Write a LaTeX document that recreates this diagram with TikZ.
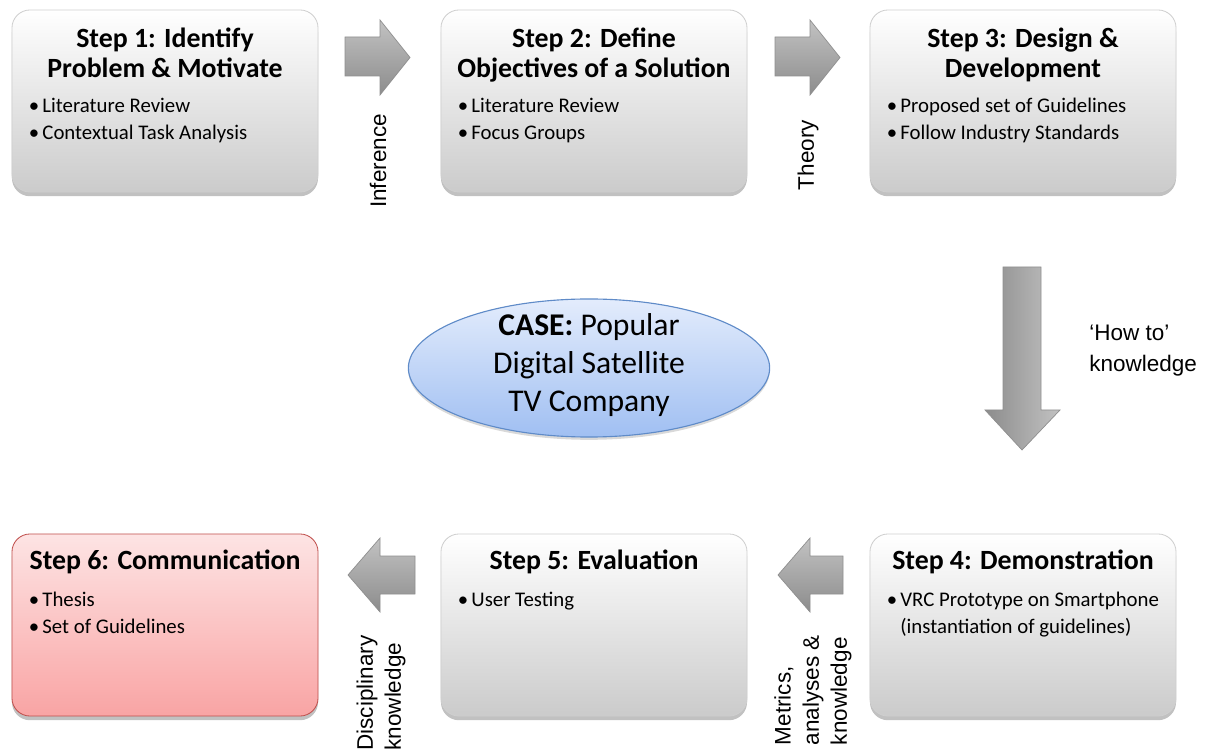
\documentclass[tikz,border=0pt]{standalone}
\usepackage{fontspec}
\setmainfont{Carlito}
\newfontfamily\labelfont{Liberation Sans}
\usetikzlibrary{shapes.geometric,shadows,calc}

\definecolor{boxtop}{HTML}{FFFFFF}
\definecolor{boxbot}{HTML}{CBCBCB}
\definecolor{boxline}{HTML}{CFCFCF}
\definecolor{redtop}{HTML}{FDE4E4}
\definecolor{redbot}{HTML}{F9A4A4}
\definecolor{redline}{HTML}{C0504D}
\definecolor{elltop}{HTML}{E3ECFC}
\definecolor{ellbot}{HTML}{A0BFF2}
\definecolor{ellline}{HTML}{5F8BC8}
\definecolor{arrowtop}{HTML}{C2C2C2}
\definecolor{arrowbot}{HTML}{8C8C8C}
\definecolor{arrowline}{HTML}{8F8F8F}

% bullet with a narrow gap before the item text
\newcommand{\itm}{\textbullet\hspace{2.3pt}}

\begin{document}
\begin{tikzpicture}[x=0.025cm,y=-0.025cm,
  stepbox/.style={draw=boxline, line width=0.6pt, rounded corners=0.45cm,
    minimum width=7.65cm, minimum height=4.55cm, inner sep=0pt,
    top color=boxtop, bottom color=boxbot,
    drop shadow={shadow xshift=0pt, shadow yshift=-3pt, opacity=0.35, fill=black!70}},
  redbox/.style={stepbox, draw=redline, top color=redtop, bottom color=redbot},
  titletext/.style={font=\bfseries\fontsize{19.8}{21.3}\selectfont, align=center, inner sep=0pt},
  bullettext/.style={font=\fontsize{14.8}{19.2}\selectfont, align=left, inner sep=0pt},
  casetext/.style={font=\fontsize{22.5}{27}\selectfont, align=center, inner sep=0pt},
  arrowlabel/.style={font=\labelfont\fontsize{16}{20}\selectfont, align=left, inner sep=0pt},
  blockarrow/.style={draw=arrowline, line width=0.5pt, top color=arrowtop, bottom color=arrowbot, line join=miter},
  blockarrowv/.style={draw=arrowline, line width=0.5pt, left color=arrowbot, right color=arrowtop, line join=miter},
  casebubble/.style={ellipse, draw=ellline, line width=0.8pt, minimum width=9.03cm, minimum height=3.45cm,
    inner sep=0pt, top color=elltop, bottom color=ellbot,
    drop shadow={shadow xshift=0pt, shadow yshift=-2pt, opacity=0.25, fill=black!60}}
]
\useasboundingbox (0,0) rectangle (1206,754);

% the six steps
\node[stepbox] (s1) at (165,101) {};
\node[stepbox] (s2) at (594,101) {};
\node[stepbox] (s3) at (1023,101) {};
\node[stepbox] (s4) at (1023,625) {};
\node[stepbox] (s5) at (594,625) {};
\node[redbox]  (s6) at (165,625) {};

% headings (base = baseline of the last line)
\node[titletext, anchor=base] (t1) at ($(s1.north)+(0,68)$) {Step 1: Identify\\Problem \& Motivate};
\node[titletext, anchor=base] (t2) at ($(s2.north)+(0,68)$) {Step 2: Define\\Objectives of a Solution};
\node[titletext, anchor=base] (t3) at ($(s3.north)+(0,68)$) {Step 3: Design \&\\Development};
\node[titletext, anchor=base] (t4) at ($(s4.north)+(0,36)$) {Step 4: Demonstration};
\node[titletext, anchor=base] (t5) at ($(s5.north)+(0,36)$) {Step 5: Evaluation};
\node[titletext, anchor=base] (t6) at ($(s6.north)+(0,36)$) {Step 6: Communication};

% bullet lists (base = baseline of the last line)
\node[bullettext, anchor=base west] (b1) at ($(s1.north west)+(17,130)$)
  {\itm Literature Review\\\itm Contextual Task Analysis};
\node[bullettext, anchor=base west] (b2) at ($(s2.north west)+(17,130)$)
  {\itm Literature Review\\\itm Focus Groups};
\node[bullettext, anchor=base west] (b3) at ($(s3.north west)+(17,130)$)
  {\itm Proposed set of Guidelines\\\itm Follow Industry Standards};
\node[bullettext, anchor=base west] (b4) at ($(s4.north west)+(17,100)$)
  {\itm VRC Prototype on Smartphone\\\hphantom{\itm}(instantiation of guidelines)};
\node[bullettext, anchor=base west] (b5) at ($(s5.north west)+(17,73)$)
  {\itm User Testing};
\node[bullettext, anchor=base west] (b6) at ($(s6.north west)+(17,100)$)
  {\itm Thesis\\\itm Set of Guidelines};

% the case in the middle
\node[casebubble] (case) at (589,368) {};
\node[casetext] (casetxt) at ($(case.center)+(0,-3)$) {\textbf{CASE:} Popular\\Digital Satellite\\TV Company};

% block arrows between the steps
\path[blockarrow] (345,37) -- (380,37) -- (380,20) -- (410,57.5) -- (380,95) -- (380,76) -- (345,76) -- cycle;
\path[blockarrow] (775,37) -- (810,37) -- (810,20) -- (840,57.5) -- (810,95) -- (810,76) -- (775,76) -- cycle;
\path[blockarrowv] (1003,267) -- (1041,267) -- (1041,410) -- (1060,410) -- (1022,450) -- (985,410) -- (1003,410) -- cycle;
\path[blockarrow] (843,556) -- (810,556) -- (810,538) -- (778,575) -- (810,612) -- (810,594) -- (843,594) -- cycle;
\path[blockarrow] (415,556) -- (380,556) -- (380,538) -- (348,575) -- (380,612) -- (380,594) -- (415,594) -- cycle;

% arrow labels
\node[arrowlabel, rotate=90] (l12) at (378,161) {Inference};
\node[arrowlabel, rotate=90] (l23) at (808,155) {Theory};
\node[arrowlabel, anchor=west, font=\labelfont\fontsize{16}{22}\selectfont] (l34) at (1089,351) {‘How to’\\knowledge};
\node[arrowlabel, rotate=90] (l45) at (813,690) {Metrics,\\analyses \&\\knowledge};
\node[arrowlabel, rotate=90] (l56) at (381,693) {Disciplinary\\knowledge};
\end{tikzpicture}
\end{document}
